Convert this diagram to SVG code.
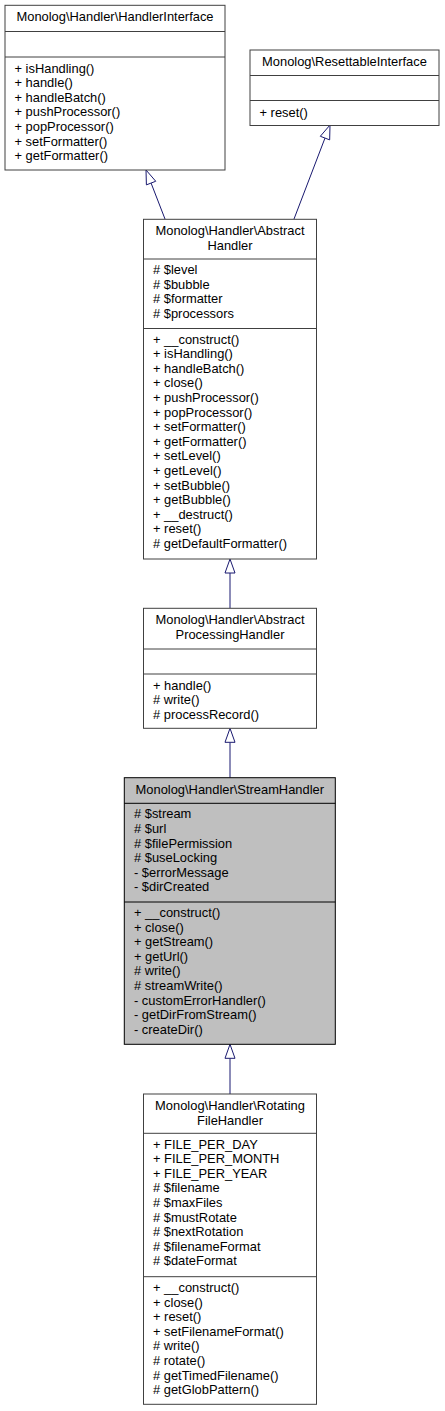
<svg xmlns="http://www.w3.org/2000/svg" width="445" height="1411" viewBox="0 0 445 1411">
<style>
.box{fill:#ffffff;stroke:#404040;stroke-width:1}
.cur{fill:#bfbfbf;stroke:#000000;stroke-width:1}
.sep{stroke:#404040;stroke-width:1}
text{font-family:"Liberation Sans",Arial,Helvetica,sans-serif;font-size:12.9px;fill:#000000}
.t{text-anchor:middle}
.edge{stroke:#191970;stroke-width:1;fill:none}
.head{fill:#ffffff;stroke:#191970;stroke-width:1}
</style>
<rect width="445" height="1411" fill="#ffffff"/>
<g id="edges">
  <path class="edge" d="M165,219 L151.07,183.06"/>
  <polygon class="head" points="146,170 155.74,181.25 146.40,184.87"/>
  <path class="edge" d="M294,219 L324.99,138.07"/>
  <polygon class="head" points="330,125 329.66,139.86 320.32,136.28"/>
  <path class="edge" d="M230,608.3 L230,573"/>
  <polygon class="head" points="230,559 235,573 225,573"/>
  <path class="edge" d="M230,777.7 L230,742.3"/>
  <polygon class="head" points="230,728.3 235,742.3 225,742.3"/>
  <path class="edge" d="M230,1094 L230,1058.3"/>
  <polygon class="head" points="230,1044.3 235,1058.3 225,1058.3"/>
</g>
<g id="HandlerInterface">
  <rect class="box" x="5" y="5.3" width="220" height="164.7"/>
  <line class="sep" x1="5" y1="31.5" x2="225" y2="31.5"/>
  <line class="sep" x1="5" y1="57" x2="225" y2="57"/>
  <text class="t" x="115" y="21">Monolog\Handler\HandlerInterface</text>
  <text x="14.5" y="72.5">+ isHandling()</text>
  <text x="14.5" y="87.1">+ handle()</text>
  <text x="14.5" y="101.7">+ handleBatch()</text>
  <text x="14.5" y="116.3">+ pushProcessor()</text>
  <text x="14.5" y="130.9">+ popProcessor()</text>
  <text x="14.5" y="145.5">+ setFormatter()</text>
  <text x="14.5" y="160.1">+ getFormatter()</text>
</g>
<g id="ResettableInterface">
  <rect class="box" x="250" y="50" width="189" height="75.5"/>
  <line class="sep" x1="250" y1="75.5" x2="439" y2="75.5"/>
  <line class="sep" x1="250" y1="100.5" x2="439" y2="100.5"/>
  <text class="t" x="344.5" y="66">Monolog\ResettableInterface</text>
  <text x="259.5" y="116.5">+ reset()</text>
</g>
<g id="AbstractHandler">
  <rect class="box" x="143.5" y="219.3" width="173" height="339.7"/>
  <line class="sep" x1="143.5" y1="259" x2="316.5" y2="259"/>
  <line class="sep" x1="143.5" y1="328.5" x2="316.5" y2="328.5"/>
  <text class="t" x="230" y="235">Monolog\Handler\Abstract</text>
  <text class="t" x="230" y="249.6">Handler</text>
  <text x="153" y="274"># $level</text>
  <text x="153" y="288.6"># $bubble</text>
  <text x="153" y="303.2"># $formatter</text>
  <text x="153" y="317.8"># $processors</text>
  <text x="153" y="343.5">+ __construct()</text>
  <text x="153" y="358.1">+ isHandling()</text>
  <text x="153" y="372.7">+ handleBatch()</text>
  <text x="153" y="387.3">+ close()</text>
  <text x="153" y="401.9">+ pushProcessor()</text>
  <text x="153" y="416.5">+ popProcessor()</text>
  <text x="153" y="431.1">+ setFormatter()</text>
  <text x="153" y="445.7">+ getFormatter()</text>
  <text x="153" y="460.3">+ setLevel()</text>
  <text x="153" y="474.9">+ getLevel()</text>
  <text x="153" y="489.5">+ setBubble()</text>
  <text x="153" y="504.1">+ getBubble()</text>
  <text x="153" y="518.7">+ __destruct()</text>
  <text x="153" y="533.3">+ reset()</text>
  <text x="153" y="547.9"># getDefaultFormatter()</text>
</g>
<g id="AbstractProcessingHandler">
  <rect class="box" x="143.5" y="608.3" width="173" height="120"/>
  <line class="sep" x1="143.5" y1="649" x2="316.5" y2="649"/>
  <line class="sep" x1="143.5" y1="674" x2="316.5" y2="674"/>
  <text class="t" x="230" y="624">Monolog\Handler\Abstract</text>
  <text class="t" x="230" y="638.6">ProcessingHandler</text>
  <text x="153" y="689.5">+ handle()</text>
  <text x="153" y="704.1"># write()</text>
  <text x="153" y="718.7"># processRecord()</text>
</g>
<g id="StreamHandler">
  <rect class="cur" x="124.3" y="777.7" width="211" height="266.6"/>
  <line class="sep" x1="124.3" y1="803.3" x2="335.3" y2="803.3" style="stroke:#000000"/>
  <line class="sep" x1="124.3" y1="902" x2="335.3" y2="902" style="stroke:#000000"/>
  <text class="t" x="229.8" y="793.5">Monolog\Handler\StreamHandler</text>
  <text x="134" y="818.3"># $stream</text>
  <text x="134" y="832.9"># $url</text>
  <text x="134" y="847.5"># $filePermission</text>
  <text x="134" y="862.1"># $useLocking</text>
  <text x="134" y="876.7">- $errorMessage</text>
  <text x="134" y="891.3">- $dirCreated</text>
  <text x="134" y="917">+ __construct()</text>
  <text x="134" y="931.6">+ close()</text>
  <text x="134" y="946.2">+ getStream()</text>
  <text x="134" y="960.8">+ getUrl()</text>
  <text x="134" y="975.4"># write()</text>
  <text x="134" y="990"># streamWrite()</text>
  <text x="134" y="1004.6">- customErrorHandler()</text>
  <text x="134" y="1019.2">- getDirFromStream()</text>
  <text x="134" y="1033.8">- createDir()</text>
</g>
<g id="RotatingFileHandler">
  <rect class="box" x="143.5" y="1094" width="173" height="310.3"/>
  <line class="sep" x1="143.5" y1="1133.3" x2="316.5" y2="1133.3"/>
  <line class="sep" x1="143.5" y1="1276.7" x2="316.5" y2="1276.7"/>
  <text class="t" x="230" y="1110">Monolog\Handler\Rotating</text>
  <text class="t" x="230" y="1124.6">FileHandler</text>
  <text x="153" y="1148.5">+ FILE_PER_DAY</text>
  <text x="153" y="1163.1">+ FILE_PER_MONTH</text>
  <text x="153" y="1177.7">+ FILE_PER_YEAR</text>
  <text x="153" y="1192.3"># $filename</text>
  <text x="153" y="1206.9"># $maxFiles</text>
  <text x="153" y="1221.5"># $mustRotate</text>
  <text x="153" y="1236.1"># $nextRotation</text>
  <text x="153" y="1250.7"># $filenameFormat</text>
  <text x="153" y="1265.3"># $dateFormat</text>
  <text x="153" y="1292">+ __construct()</text>
  <text x="153" y="1306.6">+ close()</text>
  <text x="153" y="1321.2">+ reset()</text>
  <text x="153" y="1335.8">+ setFilenameFormat()</text>
  <text x="153" y="1350.4"># write()</text>
  <text x="153" y="1365"># rotate()</text>
  <text x="153" y="1379.6"># getTimedFilename()</text>
  <text x="153" y="1394.2"># getGlobPattern()</text>
</g>
</svg>
